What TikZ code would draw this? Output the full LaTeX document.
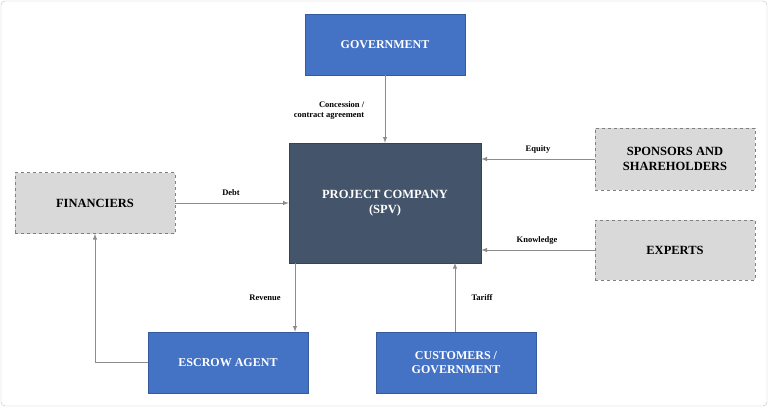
\documentclass[tikz,border=0pt]{standalone}
\usepackage{fontspec}
\setmainfont{Liberation Serif}
\usetikzlibrary{positioning}
\definecolor{govblue}{HTML}{4472C4}
\definecolor{spvdark}{HTML}{44546A}
\definecolor{boxgray}{HTML}{D9D9D9}
\definecolor{linegray}{HTML}{8C8C8C}
\tikzset{
  bluebox/.style={fill=govblue, draw=govblue!80!black, minimum width=160pt, minimum height=61pt, text=white, font=\fontsize{12}{14}\selectfont\bfseries, align=center},
  graybox/.style={fill=boxgray, draw=gray, dashed, minimum width=160pt, minimum height=61pt, font=\fontsize{12.5}{15}\selectfont\bfseries, align=center},
  flow/.style={-latex, draw=linegray, line width=1pt},
  lbl/.style={font=\fontsize{8.5}{10}\selectfont\bfseries, align=right}
}
\begin{document}
\begin{tikzpicture}[x=1pt,y=-1pt]
  \useasboundingbox (0,0) rectangle (768,407);
  \draw[gray!50, rounded corners=4pt] (1,1) rectangle (767,406);
  \node[bluebox] (gov) at (385,44.5) {GOVERNMENT};
  \node[fill=spvdark, draw=spvdark!80!black, minimum width=192pt, minimum height=120pt, text=white, font=\fontsize{12.5}{15}\selectfont\bfseries, align=center] (spv) at (385,203) {PROJECT COMPANY\\(SPV)};
  \node[graybox] (fin) at (95,203) {FINANCIERS};
  \node[graybox, minimum height=62pt] (spons) at (675,159) {SPONSORS AND\\SHAREHOLDERS};
  \node[graybox, minimum height=60pt] (exp) at (675,250) {EXPERTS};
  \node[bluebox] (escrow) at (228,362.5) {ESCROW AGENT};
  \node[bluebox] (cust) at (456,362.5) {CUSTOMERS /\\GOVERNMENT};
  % connectors
  \draw[flow] (gov) -- (spv);
  \draw[flow] (spons.west) -- (spons.west -| spv.east);
  \draw[flow] (exp.west) -- (exp.west -| spv.east);
  \draw[flow] (fin.east) -- (fin.east -| spv.west);
  \draw[flow] (escrow.north -| 295,0) ++(0,-69) -- (escrow.north -| 295,0);
  \draw[flow] (cust.north -| 455,0) -- ++(0,-69);
  \draw[flow] (escrow.west) -| (fin.south);
  % labels
  \node[lbl] (lconc) at (329,110) {Concession /\\contract agreement};
  \node[lbl] (lequity) at (538,149) {Equity};
  \node[lbl] (lknow) at (537,240) {Knowledge};
  \node[lbl] (ldebt) at (231,193) {Debt};
  \node[lbl] (lrev) at (265,298) {Revenue};
  \node[lbl] (ltar) at (482,298) {Tariff};
\end{tikzpicture}
\end{document}
